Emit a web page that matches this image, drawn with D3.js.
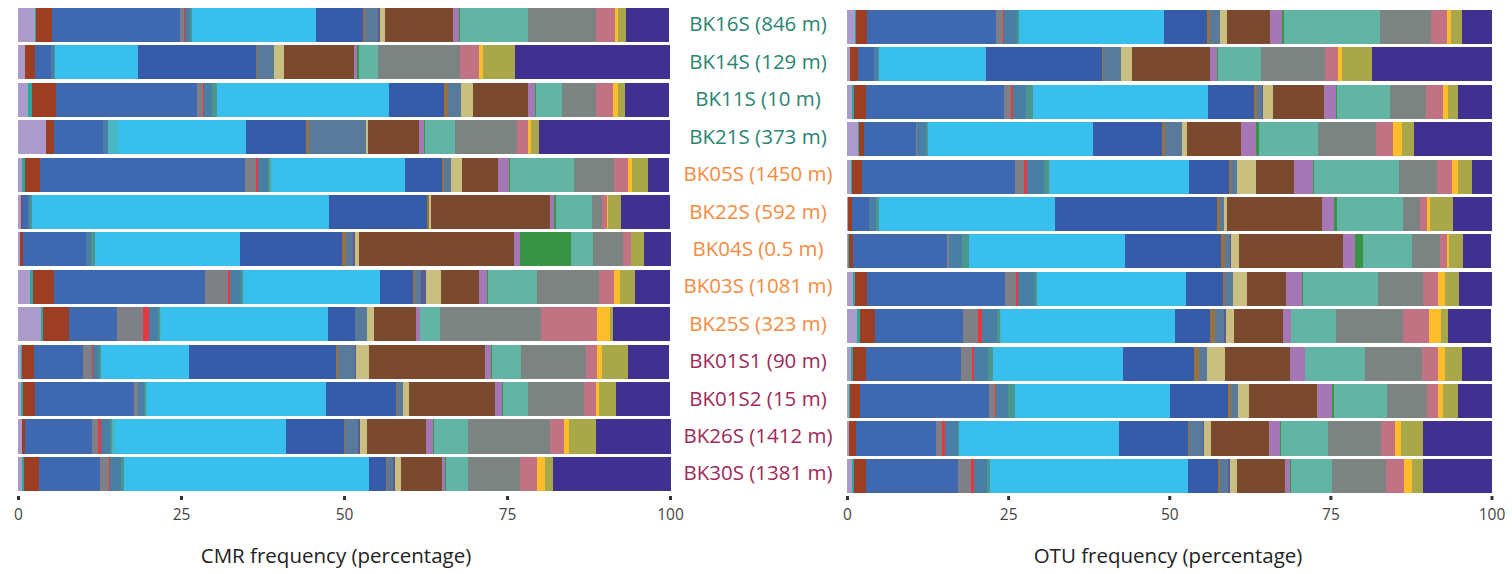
<!DOCTYPE html>
<html>
<head>
<meta charset="utf-8">
<script src="https://cdn.jsdelivr.net/npm/d3@7"></script>
<style>
  body { margin: 0; background: #fff; }
  svg { display: block; font-family: "Open Sans", sans-serif; }
</style>
</head>
<body>
<svg id="chart" width="1512" height="574"></svg>
<script>
// Samples (top to bottom) and their site groups
const samples = ["BK16S (846 m)", "BK14S (129 m)", "BK11S (10 m)", "BK21S (373 m)",
  "BK05S (1450 m)", "BK22S (592 m)", "BK04S (0.5 m)", "BK03S (1081 m)", "BK25S (323 m)",
  "BK01S1 (90 m)", "BK01S2 (15 m)", "BK26S (1412 m)", "BK30S (1381 m)"];
const sampleGroups = ["A", "A", "A", "A", "B", "B", "B", "B", "B", "C", "C", "C", "C"];
const groupColors = { A: "#2b8573", B: "#f48c3f", C: "#a02a58" };

// Taxa, in stacking order, with their fill colours
const taxa = ["t01", "t02", "t03", "t04", "t05", "t06", "t07", "t08", "t09", "t10", "t11", "t12",
  "t13", "t14", "t15", "t16", "t17", "t18", "t19", "t20", "t21", "t22", "t23", "t24"];
const taxaColors = ["#ab9bcc", "#2aa99b", "#9d3d22", "#3e69b1", "#7f7f86", "#e8383d", "#4a7fa5",
  "#4b968f", "#4ab6c4", "#38bfee", "#365ca9", "#99703f", "#5a7a9c", "#5d5a92", "#c9bf80",
  "#7b4a2e", "#a578b5", "#3a9445", "#62b5a5", "#7b8481", "#c17283", "#fdbd2a", "#a8a749", "#40308f"];

// CMR frequency (%) per taxon, one value per sample
const cmr = [
  [2.6, 1.1, 1.5, 4.3, 0.6, 0.45, 0.3, 1.8, 3.5, 0.45, 0.45, 0.6, 0.6],
  [0.15, 0, 0.6, 0, 0.45, 0, 0, 0.45, 0.3, 0.15, 0.3, 0, 0.3],
  [2.4, 1.5, 3.8, 1.2, 2.3, 0.15, 0.45, 3.2, 4.0, 1.8, 1.8, 0.45, 2.3],
  [19.7, 2.5, 21.6, 7.5, 31.4, 0.9, 9.7, 23.3, 7.4, 7.5, 15.2, 10.3, 9.4],
  [0.6, 0, 0.9, 0, 1.8, 0, 0, 3.5, 4.0, 1.4, 0.6, 0.9, 1.4],
  [0.2, 0, 0.15, 0, 0.3, 0, 0, 0.3, 0.9, 0.15, 0, 0.45, 0.15],
  [0.7, 0.45, 1.2, 0.8, 1.5, 0.3, 0.8, 1.7, 1.4, 0.9, 0.9, 1.4, 1.7],
  [0.3, 0.2, 0.8, 0, 0.3, 0.3, 0.6, 0.3, 0.3, 0.45, 0.45, 0.3, 0.45],
  [0, 0, 0, 1.5, 0.3, 0, 0, 0, 0.15, 0, 0, 0.45, 0],
  [19.0, 12.7, 26.4, 19.6, 20.4, 45.6, 22.2, 20.9, 25.6, 13.5, 27.5, 26.2, 37.6],
  [7.2, 18.1, 8.4, 9.2, 5.7, 15.0, 15.6, 5.1, 4.1, 22.5, 10.7, 8.9, 2.6],
  [0.3, 0.15, 0.6, 0.6, 0.3, 0.3, 0.6, 0.3, 0.1, 0.3, 0.3, 0.15, 0.15],
  [2.0, 2.6, 2.0, 8.7, 1.1, 0, 1.1, 0.9, 1.8, 2.6, 0.9, 2.1, 0.9],
  [0.3, 0, 0, 0, 0, 0, 0.3, 0.9, 0, 0.15, 0, 0.3, 0.3],
  [0.9, 1.5, 1.8, 0.3, 1.7, 0.3, 0.6, 2.3, 1.1, 2.0, 0.9, 1.1, 0.9],
  [10.4, 10.7, 8.4, 7.8, 5.5, 18.3, 23.9, 5.8, 6.4, 17.8, 13.2, 9.0, 6.3],
  [0.9, 0.45, 1.1, 0.8, 1.7, 0.6, 0.9, 1.2, 0.6, 0.9, 1.1, 1.1, 0.45],
  [0.15, 0.3, 0.15, 0.15, 0.15, 0.3, 7.7, 0.15, 0, 0.15, 0.15, 0.15, 0.15],
  [10.4, 2.9, 4.1, 4.6, 9.8, 5.5, 3.5, 7.5, 3.1, 4.4, 3.8, 5.2, 3.4],
  [10.4, 12.7, 5.2, 9.5, 6.1, 1.5, 4.6, 9.5, 15.5, 10.0, 8.6, 12.6, 8.0],
  [2.9, 2.9, 2.5, 1.7, 2.1, 0.8, 1.1, 2.3, 8.6, 1.7, 1.8, 2.1, 2.6],
  [0.5, 0.6, 0.8, 0.5, 0.6, 0.15, 0, 0.9, 2.0, 0.8, 0.5, 0.8, 1.2],
  [1.2, 4.9, 1.1, 1.1, 2.5, 2.1, 2.1, 2.3, 0.45, 4.0, 2.6, 4.1, 1.2],
  [6.6, 23.8, 6.7, 20.1, 3.2, 7.5, 4.1, 5.4, 8.7, 6.3, 8.3, 11.5, 18.1]
];

// OTU frequency (%) per taxon, one value per sample
const otu = [
  [1.2, 0.45, 0.8, 1.7, 0.6, 0.15, 0.15, 0.9, 1.55, 0.6, 0.3, 0.3, 0.8],
  [0.15, 0, 0.3, 0.15, 0.15, 0, 0.15, 0.3, 0.45, 0.3, 0.15, 0, 0.3],
  [1.7, 1.2, 1.9, 0.8, 1.55, 0.6, 0.6, 1.9, 2.3, 2.0, 1.55, 1.1, 1.9],
  [20.0, 2.6, 21.3, 8.1, 23.8, 2.6, 14.6, 21.4, 13.7, 14.75, 20.0, 12.4, 14.3],
  [1.1, 0, 1.2, 0.15, 1.4, 0, 0.3, 1.7, 2.3, 1.7, 0.9, 0.9, 1.9],
  [0.15, 0, 0.3, 0, 0.45, 0, 0, 0.3, 0.6, 0.3, 0.15, 0.45, 0.45],
  [2.0, 0.6, 1.9, 1.4, 2.6, 1.1, 2.0, 2.6, 2.3, 2.2, 1.9, 2.0, 2.0],
  [0.45, 0.15, 1.1, 0.3, 0.8, 0.45, 1.2, 0.45, 0.6, 0.8, 1.1, 0.3, 0.6],
  [0, 0, 0, 0, 0.15, 0, 0, 0, 0.15, 0, 0, 0, 0],
  [22.4, 16.6, 27.2, 25.6, 21.6, 27.3, 24.2, 23.1, 27.0, 20.2, 24.1, 24.8, 30.6],
  [6.7, 18.0, 7.1, 10.6, 6.1, 25.2, 14.9, 5.7, 5.4, 11.0, 9.0, 10.7, 4.7],
  [0.45, 0.15, 0.45, 0.6, 0.45, 0.45, 0.6, 0.3, 0.8, 0.8, 0.45, 0.15, 0.3],
  [1.55, 2.8, 0.9, 2.6, 0.8, 0.6, 0.8, 1.2, 1.4, 1.2, 1.1, 2.2, 1.2],
  [0, 0, 0.15, 0, 0, 0, 0.15, 0, 0.3, 0, 0, 0.15, 0.3],
  [1.1, 1.7, 1.55, 0.8, 3.0, 0.45, 1.2, 2.2, 1.2, 2.8, 1.7, 1.1, 1.1],
  [6.7, 12.1, 7.8, 8.4, 5.9, 14.8, 16.1, 6.1, 7.6, 10.1, 10.6, 9.0, 7.5],
  [1.9, 1.1, 2.0, 2.2, 3.0, 1.9, 1.9, 2.5, 1.2, 2.3, 2.3, 1.7, 0.8],
  [0.3, 0.15, 0.15, 0.45, 0.15, 0.45, 1.2, 0.15, 0, 0, 0.3, 0.15, 0.15],
  [14.9, 6.7, 8.1, 9.3, 13.2, 10.2, 7.6, 11.6, 7.0, 9.3, 8.2, 7.3, 6.4],
  [7.9, 9.9, 5.7, 9.0, 5.9, 2.6, 4.3, 7.0, 10.4, 8.9, 6.2, 8.1, 8.4],
  [2.5, 2.0, 2.5, 2.5, 2.3, 1.1, 1.2, 2.3, 4.0, 2.5, 1.7, 2.3, 2.8],
  [0.6, 0.6, 0.9, 1.4, 0.9, 0.45, 0.3, 1.1, 1.9, 1.1, 0.8, 0.8, 1.2],
  [1.7, 4.7, 1.55, 2.0, 2.2, 3.7, 2.2, 2.2, 1.1, 2.5, 2.3, 3.4, 1.7],
  [4.7, 18.5, 5.3, 12.1, 3.0, 5.9, 4.2, 5.0, 6.7, 4.8, 5.3, 10.7, 10.6]
];

const xTicks = [0, 25, 50, 75, 100];

const svg = d3.select("#chart");
const color = d3.scaleOrdinal().domain(taxa).range(taxaColors);

function drawPanel(values, opts) {
  // one row per sample, one column per taxon
  const table = samples.map((s, i) => {
    const row = { sample: s };
    taxa.forEach((t, k) => { row[t] = values[k][i]; });
    return row;
  });
  const series = d3.stack().keys(taxa)(table);

  const x = d3.scaleLinear().domain([0, 100]).range(opts.xRange);
  const y = d3.scaleBand().domain(samples).range(opts.yRange).paddingInner(0.09).paddingOuter(0.045);

  const g = svg.append("g");
  g.selectAll("g.layer")
    .data(series)
    .join("g")
    .attr("class", "layer")
    .attr("fill", d => color(d.key))
    .selectAll("rect")
    .data(d => d.filter(p => p[1] - p[0] > 0))
    .join("rect")
    .attr("x", p => x(p[0]))
    .attr("width", p => x(p[1]) - x(p[0]))
    .attr("y", p => y(p.data.sample))
    .attr("height", y.bandwidth())
    .attr("shape-rendering", "crispEdges");

  const axis = g.append("g")
    .attr("transform", `translate(0,${opts.axisY})`)
    .call(d3.axisBottom(x).tickValues(xTicks).tickSize(4).tickPadding(9));
  axis.select(".domain").remove();
  axis.selectAll(".tick line").attr("stroke", "#333").attr("stroke-width", 3);
  axis.selectAll(".tick text").attr("fill", "#444").style("font-size", "15.5px")
    .style("font-family", "'Open Sans', sans-serif");

  g.append("text")
    .attr("x", opts.titleX)
    .attr("y", 563)
    .attr("text-anchor", "middle")
    .attr("fill", "#222")
    .style("font-size", "20.5px")
    .text(opts.title);

  return y;
}

const yLeft = drawPanel(cmr, { xRange: [18, 670], yRange: [6.3, 492.6], axisY: 496,
  title: "CMR frequency (percentage)", titleX: 336 });
drawPanel(otu, { xRange: [847, 1491.5], yRange: [8.3, 494.6], axisY: 496,
  title: "OTU frequency (percentage)", titleX: 1168 });

// sample labels between the two panels
svg.append("g").selectAll("text")
  .data(samples)
  .join("text")
  .attr("x", 758)
  .attr("y", (d) => yLeft(d) + yLeft.bandwidth() / 2 + 1)
  .attr("text-anchor", "middle")
  .attr("dominant-baseline", "middle")
  .attr("fill", (d, i) => groupColors[sampleGroups[i]])
  .style("font-size", "20.5px")
  .text(d => d);
</script>
</body>
</html>
